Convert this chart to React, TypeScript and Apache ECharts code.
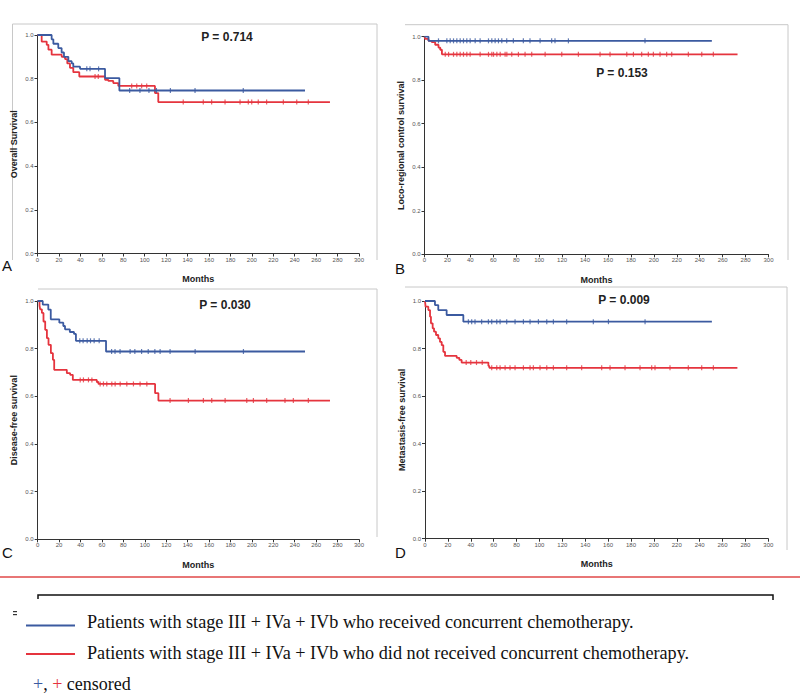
import React, { useEffect, useRef } from "react";
import * as echarts from "echarts";

// ---- Data (months, survival probability) ----
const xTicks = [0, 20, 40, 60, 80, 100, 120, 140, 160, 180, 200, 220, 240, 260, 280, 300];

const aBlue: [number, number][] = [[0, 1], [13.2, 0.98], [14.8, 0.96], [19.4, 0.94], [22.5, 0.92], [24.7, 0.9], [28.8, 0.88], [31.9, 0.87], [33.4, 0.855], [39.7, 0.845], [63, 0.803], [76.4, 0.746], [249.6, 0.746]];
const aRed: [number, number][] = [[0, 1], [3.9, 0.97], [8.6, 0.955], [10.2, 0.933], [13.2, 0.91], [22.6, 0.9], [25.7, 0.89], [27.8, 0.87], [30.3, 0.85], [33.4, 0.83], [39, 0.81], [63, 0.795], [66.1, 0.79], [70.7, 0.78], [75.4, 0.767], [109.6, 0.734], [112.7, 0.693], [272.9, 0.693]];
const aBlueCens = [46, 49, 57, 86, 95.6, 104, 111, 124, 147, 192];
const aRedCens = [53.7, 56.7, 87.9, 92.6, 97.2, 101.9, 136, 154.7, 162.5, 175, 189, 196.7, 199.9, 206, 213.8, 229.4, 241.9, 252.7];

const bBlue: [number, number][] = [[0, 1], [3.5, 0.981], [250.6, 0.981]];
const bRed: [number, number][] = [[0, 1], [0.6, 0.99], [3.5, 0.981], [6.4, 0.975], [9.3, 0.963], [12.2, 0.95], [13.7, 0.94], [15.2, 0.919], [273, 0.919]];
const bBlueCens = [12.2, 19.5, 22.4, 25.3, 28.2, 31.1, 34.0, 36.9, 39.8, 44.2, 48.5, 55.8, 58.7, 61.6, 64.5, 67.4, 71.7, 77.5, 86.2, 92.0, 100.8, 110.9, 113.8, 125.5, 192.3];
const bRedCens = [18.1, 21.0, 25.3, 28.2, 31.1, 34.0, 36.9, 39.8, 48.5, 55.8, 58.7, 60.2, 63.1, 66.0, 70.3, 71.8, 76.1, 81.9, 87.7, 93.5, 105.2, 119.7, 134.2, 153.1, 161.8, 176.4, 182.2, 189.4, 195.2, 199.6, 205.4, 211.2, 215.6, 230.1, 241.8, 251.9];

const cBlue: [number, number][] = [[0, 1], [4.7, 0.985], [9.9, 0.964], [12.2, 0.923], [20.2, 0.909], [23.9, 0.895], [25.5, 0.881], [30, 0.87], [33.9, 0.862], [35.7, 0.833], [63.8, 0.788], [249.6, 0.788]];
const cRed: [number, number][] = [[0, 1], [1.7, 0.98], [2.3, 0.965], [3.9, 0.95], [5.4, 0.914], [7, 0.879], [8.6, 0.844], [10.1, 0.816], [12.3, 0.781], [14.2, 0.753], [15.4, 0.711], [27.2, 0.697], [30.3, 0.69], [32.8, 0.669], [55.2, 0.66], [56.7, 0.652], [109.6, 0.613], [112.7, 0.582], [272.9, 0.582]];
const cBlueCens = [39.3, 42.4, 46.2, 49.3, 52.7, 57.4, 69, 72.2, 76.9, 86.3, 90.7, 97, 103.2, 109.4, 114.3, 123.6, 147, 192.1];
const cRedCens = [39.7, 42.7, 47.4, 50.6, 58.3, 61.4, 64.5, 69.2, 72.3, 77, 83.2, 89.4, 95.6, 101.9, 123.6, 140.7, 154.7, 162.5, 175, 195.2, 201.4, 213.8, 230.9, 238.7, 252.7];

const dBlue: [number, number][] = [[0, 1], [8.7, 0.983], [11.6, 0.962], [18.9, 0.941], [33.5, 0.913], [250.7, 0.913]];
const dRed: [number, number][] = [[0, 1], [0.5, 0.976], [2.9, 0.962], [4.4, 0.934], [5.2, 0.906], [6.7, 0.885], [7.9, 0.871], [9.6, 0.857], [11.6, 0.843], [13.1, 0.828], [14.6, 0.814], [16, 0.786], [17.5, 0.769], [27.7, 0.761], [30, 0.752], [32, 0.741], [55.4, 0.727], [56.2, 0.719], [273, 0.719]];
const dBlueCens = [37.9, 40.8, 43.7, 49.5, 55.4, 58.3, 62.7, 65.6, 71.4, 78.7, 86, 91.8, 99.1, 106.4, 112.2, 123.8, 147.1, 160.3, 192.3];
const dRedCens = [36, 40, 45, 50, 58.3, 62.7, 65.6, 70, 74.3, 78.7, 86, 91.8, 94.7, 100.5, 106.4, 112.2, 123.8, 136.9, 154.4, 161.7, 174.8, 187.9, 198.1, 201, 214.1, 230.1, 241.8, 252];

const panelLetters = ["A", "B", "C", "D"];
const yTitles = ["Overall Survival", "Loco-regional control survival", "Disease-free survival", "Metastasis-free survival"];
const pValues = ["P = 0.714", "P = 0.153", "P = 0.030", "P = 0.009"];
const legendTexts = [
  "Patients with stage III + IVa + IVb who received concurrent chemotherapy.",
  "Patients with stage III + IVa + IVb who did not received concurrent chemotherapy.",
];

const BLUE = "#3b5aa0";
const RED = "#e5343e";

function stepValue(curve: [number, number][], t: number): number {
  let v = curve[0][1];
  for (const [x, y] of curve) {
    if (x <= t) v = y;
    else break;
  }
  return v;
}

const grids = [
  { left: 37.5, top: 35, width: 321.5, height: 218.5 },
  { left: 424.5, top: 36.7, width: 344, height: 217.6 },
  { left: 37.7, top: 301, width: 321.3, height: 238.3 },
  { left: 425, top: 301, width: 343.3, height: 237.7 },
];

const panels = [
  { blue: aBlue, red: aRed, bc: aBlueCens, rc: aRedCens },
  { blue: bBlue, red: bRed, bc: bBlueCens, rc: bRedCens },
  { blue: cBlue, red: cRed, bc: cBlueCens, rc: cRedCens },
  { blue: dBlue, red: dRed, bc: dBlueCens, rc: dRedCens },
];

export default function App() {
  const ref = useRef<HTMLDivElement>(null);
  useEffect(() => {
    if (!ref.current) return;
    const chart = echarts.init(ref.current, undefined, { renderer: "svg" });
    const font = "Liberation Sans, Arial, sans-serif";
    const serif = "Liberation Serif, Times New Roman, serif";
    const xAxis = grids.map((_, i) => ({
      type: "value",
      gridIndex: i,
      min: xTicks[0],
      max: xTicks[xTicks.length - 1],
      interval: 20,
      name: "Months",
      nameLocation: "middle",
      nameGap: 21,
      nameTextStyle: { fontFamily: font, fontWeight: "bold", fontSize: 9, color: "#222" },
      axisLine: { lineStyle: { color: "#333", width: 1 } },
      axisTick: { show: true, length: 3, lineStyle: { color: "#333" } },
      axisLabel: { fontFamily: font, fontSize: 6, color: "#555", margin: 3 },
      splitLine: { show: false },
    }));
    const yAxis = grids.map((_, i) => ({
      type: "value",
      gridIndex: i,
      min: 0,
      max: 1,
      interval: 0.2,
      name: yTitles[i],
      nameLocation: "middle",
      nameGap: 19,
      nameTextStyle: { fontFamily: font, fontWeight: "bold", fontSize: 9, color: "#222" },
      axisLine: { show: true, lineStyle: { color: "#333", width: 1 } },
      axisTick: { show: true, length: 3, lineStyle: { color: "#333" } },
      axisLabel: { fontFamily: font, fontSize: 6, color: "#555", margin: 4, formatter: (v: number) => v.toFixed(1) },
      splitLine: { show: false },
    }));
    const series: any[] = [];
    panels.forEach((p, i) => {
      series.push({
        type: "line", xAxisIndex: i, yAxisIndex: i, step: "end", symbol: "none",
        data: p.blue, lineStyle: { color: BLUE, width: 1.8 }, z: 3,
      });
      series.push({
        type: "line", xAxisIndex: i, yAxisIndex: i, step: "end", symbol: "none",
        data: p.red, lineStyle: { color: RED, width: 1.8 }, z: 2,
      });
      series.push({
        type: "scatter", xAxisIndex: i, yAxisIndex: i, symbol: "rect", symbolSize: [1.2, 5],
        data: p.bc.map((t) => [t, stepValue(p.blue, t)]), itemStyle: { color: BLUE }, z: 4,
      });
      series.push({
        type: "scatter", xAxisIndex: i, yAxisIndex: i, symbol: "rect", symbolSize: [1.2, 5],
        data: p.rc.map((t) => [t, stepValue(p.red, t)]), itemStyle: { color: RED }, z: 4,
      });
    });

    const frameColor = "#c8c8c8";
    const pPos = [[227, 37], [622, 73], [225, 305], [624, 300]];
    const letterPos = [[2, 265], [395, 268], [2, 552], [395, 552]];
    const graphic: any[] = [
      { type: "polyline", shape: { points: [[12.5, 260], [12.5, 24], [377, 24], [377, 260]] }, style: { stroke: frameColor, fill: "none", lineWidth: 1 } },
      { type: "polyline", shape: { points: [[405, 24.7], [788, 24.7], [788, 260]] }, style: { stroke: frameColor, fill: "none", lineWidth: 1 } },
      { type: "polyline", shape: { points: [[38, 289], [377, 289], [377, 537]] }, style: { stroke: frameColor, fill: "none", lineWidth: 1 } },
      { type: "polyline", shape: { points: [[405, 287], [787, 287], [787, 550]] }, style: { stroke: frameColor, fill: "none", lineWidth: 1 } },
      { type: "line", shape: { x1: 0, y1: 577, x2: 800, y2: 577 }, style: { stroke: "#e04848", lineWidth: 1.5 } },
      { type: "polyline", shape: { points: [[38, 599], [38, 595], [773, 595], [773, 600]] }, style: { stroke: "#111", fill: "none", lineWidth: 1.5 } },
      { type: "rect", shape: { x: 13, y: 611, width: 4, height: 1.2 }, style: { fill: "#333" } },
      { type: "rect", shape: { x: 13, y: 614, width: 4, height: 1.2 }, style: { fill: "#333" } },
      { type: "line", shape: { x1: 26, y1: 625.5, x2: 75, y2: 625.5 }, style: { stroke: BLUE, lineWidth: 2 } },
      { type: "line", shape: { x1: 26, y1: 654, x2: 75, y2: 654 }, style: { stroke: RED, lineWidth: 2 } },
      { type: "text", x: 87, y: 622, style: { text: legendTexts[0], fontFamily: serif, fontSize: 18.2, fill: "#111", textVerticalAlign: "middle" } },
      { type: "text", x: 87, y: 653, style: { text: legendTexts[1], fontFamily: serif, fontSize: 18.2, fill: "#111", textVerticalAlign: "middle" } },
      {
        type: "text", x: 33, y: 684,
        style: {
          text: "{b|+}{k|, }{r|+}{k| censored}",
          fontFamily: serif, fontSize: 18, textVerticalAlign: "middle",
          rich: {
            b: { fill: BLUE, fontSize: 18, fontFamily: serif },
            r: { fill: RED, fontSize: 18, fontFamily: serif },
            k: { fill: "#111", fontSize: 18, fontFamily: serif },
          },
        },
      },
    ];
    pValues.forEach((p, i) => {
      graphic.push({
        type: "text", x: pPos[i][0], y: pPos[i][1],
        style: { text: p, fontFamily: font, fontWeight: "bold", fontSize: 12, fill: "#222", textAlign: "center", textVerticalAlign: "middle" },
      });
      graphic.push({
        type: "text", x: letterPos[i][0], y: letterPos[i][1],
        style: { text: panelLetters[i], fontFamily: font, fontSize: 15, fill: "#111", textVerticalAlign: "middle" },
      });
    });

    chart.setOption({
      animation: false,
      backgroundColor: "#ffffff",
      grid: grids.map((g) => ({ ...g, containLabel: false })),
      xAxis,
      yAxis,
      series,
      graphic,
    });
    return () => chart.dispose();
  }, []);
  return (
    <div
      ref={ref}
      style={{ position: "fixed", left: 0, top: 0, width: 800, height: 695, background: "#fff" }}
    />
  );
}
